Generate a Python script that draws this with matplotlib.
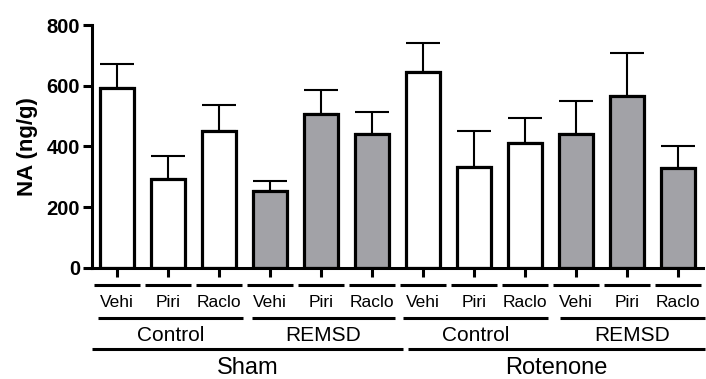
import matplotlib
matplotlib.use("Agg")
import matplotlib.pyplot as plt
import numpy as np

plt.rcParams['font.family'] = ['Liberation Sans', 'DejaVu Sans']

# data
drugs = ['Vehi', 'Piri', 'Raclo'] * 4
means = [593, 292, 451, 253, 506, 440, 645, 332, 413, 441, 565, 329]
sems = [79, 77, 86, 33, 80, 75, 97, 120, 80, 109, 144, 73]
sleep = ['Control', 'REMSD', 'Control', 'REMSD']
lesion = ['Sham', 'Rotenone']
filled = [False] * 3 + [True] * 3 + [False] * 3 + [True] * 3

gray = '#a2a2a7'
x = np.arange(len(means))

fig = plt.figure(figsize=(7.06, 3.79), dpi=100)
ax = fig.add_axes([0.130, 0.293, 0.866, 0.641])

colors = [gray if f else 'white' for f in filled]
ax.bar(x, means, width=0.67, color=colors, edgecolor='black', linewidth=2.3, zorder=2)
ax.errorbar(x, means, yerr=[np.zeros(len(sems)), sems], fmt='none', ecolor='black',
            elinewidth=1.5, capsize=12, capthick=1.5, zorder=1)

ax.set_xlim(-0.5, 11.5)
ax.set_ylim(0, 800)
ax.set_yticks([0, 200, 400, 600, 800])
ax.set_xticks(x)
ax.set_xticklabels([])
ax.spines['top'].set_visible(False)
ax.spines['right'].set_visible(False)
ax.spines['left'].set_linewidth(2.2)
ax.spines['bottom'].set_linewidth(2.2)
ax.tick_params(axis='both', width=2.2, length=6.5, pad=2)
for lab in ax.get_yticklabels():
    lab.set_fontweight('bold')
    lab.set_fontsize(14.5)
ax.set_ylabel('NA (ng/g)', fontsize=16, fontweight='bold', labelpad=6)

tr = ax.get_xaxis_transform()

# drug row: short line under each bar, label below
for i, name in enumerate(drugs):
    ax.plot([i - 0.45, i + 0.45], [-0.07, -0.07], color='black', lw=2.2,
            transform=tr, clip_on=False, solid_capstyle='butt')
    ax.text(i, -0.144, name, transform=tr, ha='center', va='center', fontsize=12.5)

# sleep row
sleep_spans = [(-0.38, 2.47), (2.64, 5.45), (5.61, 8.46), (8.69, 11.54)]
for name, (a, b) in zip(sleep, sleep_spans):
    ax.plot([a, b], [-0.206, -0.206], color='black', lw=2.2, transform=tr,
            clip_on=False, solid_capstyle='butt')
    ax.text((a + b) / 2, -0.28, name, transform=tr, ha='center', va='center', fontsize=15)

# lesion row
lesion_spans = [(-0.5, 5.61), (5.71, 11.54)]
for name, (a, b) in zip(lesion, lesion_spans):
    ax.plot([a, b], [-0.333, -0.333], color='black', lw=2.2, transform=tr,
            clip_on=False, solid_capstyle='butt')
    ax.text((a + b) / 2, -0.412, name, transform=tr, ha='center', va='center', fontsize=17)

fig.savefig('out.png', dpi=100)
